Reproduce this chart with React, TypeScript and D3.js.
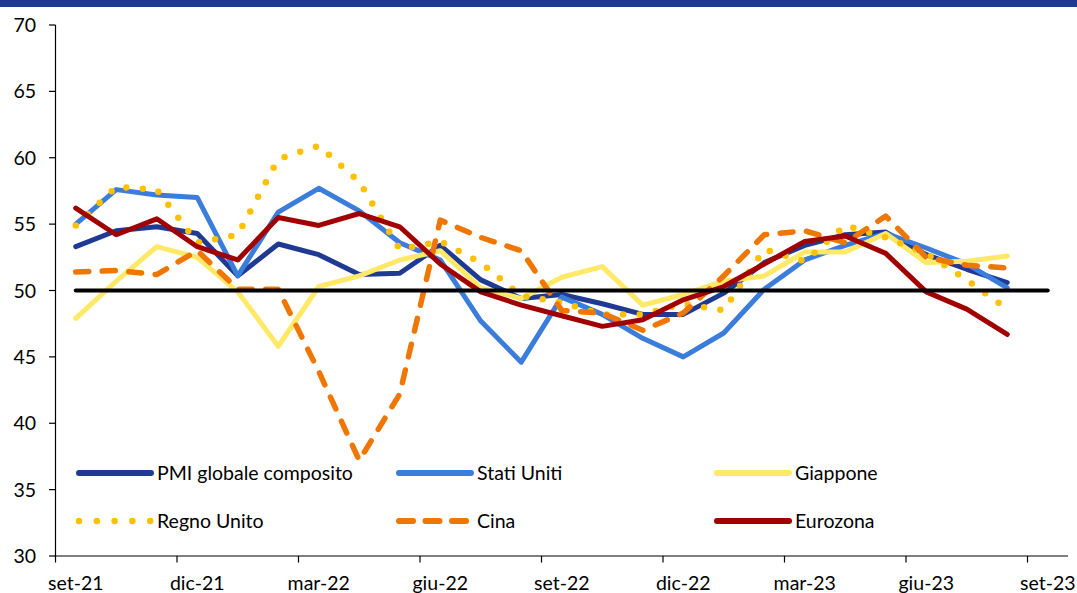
import { useEffect, useRef } from 'react';
import * as d3 from 'd3';

const months = [
  'set-21', 'ott-21', 'nov-21', 'dic-21', 'gen-22', 'feb-22', 'mar-22', 'apr-22', 'mag-22',
  'giu-22', 'lug-22', 'ago-22', 'set-22', 'ott-22', 'nov-22', 'dic-22', 'gen-23', 'feb-23',
  'mar-23', 'apr-23', 'mag-23', 'giu-23', 'lug-23', 'ago-23', 'set-23',
];
const tickMonths = ['set-21', 'dic-21', 'mar-22', 'giu-22', 'set-22', 'dic-22', 'mar-23', 'giu-23', 'set-23'];
const yTicks = [30, 35, 40, 45, 50, 55, 60, 65, 70];

const globale = [53.3, 54.5, 54.8, 54.3, 51.1, 53.5, 52.7, 51.2, 51.3, 53.4, 50.8, 49.4, 49.7, 49.0, 48.2, 48.2, 49.8, 52.1, 53.4, 54.2, 54.4, 52.7, 51.6, 50.6];
const statiUniti = [55.0, 57.6, 57.2, 57.0, 51.1, 55.9, 57.7, 56.0, 53.6, 52.3, 47.7, 44.6, 49.5, 48.2, 46.4, 45.0, 46.8, 50.1, 52.3, 53.4, 54.3, 53.2, 52.0, 50.2];
const giappone = [47.9, 50.7, 53.3, 52.5, 49.9, 45.8, 50.3, 51.1, 52.3, 53.0, 50.2, 49.4, 51.0, 51.8, 48.9, 49.7, 50.7, 51.1, 52.9, 52.9, 54.3, 52.1, 52.2, 52.6];
const regnoUnito = [54.9, 57.8, 57.6, 53.6, 54.2, 59.9, 60.9, 58.2, 53.1, 53.7, 52.1, 49.6, 49.1, 48.2, 48.2, 49.0, 48.5, 53.1, 52.2, 54.9, 54.0, 52.8, 50.8, 48.6];
const cina = [51.4, 51.5, 51.2, 53.0, 50.1, 50.1, 43.9, 37.2, 42.2, 55.3, 54.0, 53.0, 48.5, 48.3, 47.0, 48.3, 51.1, 54.2, 54.5, 53.6, 55.6, 52.5, 51.9, 51.7];
const eurozona = [56.2, 54.2, 55.4, 53.3, 52.3, 55.5, 54.9, 55.8, 54.8, 52.0, 49.9, 48.9, 48.1, 47.3, 47.8, 49.3, 50.3, 52.0, 53.7, 54.1, 52.8, 49.9, 48.6, 46.7];
const soglia = 50;

const series = [
  { name: 'PMI globale composito', values: globale, color: '#1f3a93', width: 5, dash: null },
  { name: 'Stati Uniti', values: statiUniti, color: '#3a7ddb', width: 5, dash: null },
  { name: 'Giappone', values: giappone, color: '#ffe966', width: 5, dash: null },
  { name: 'Regno Unito', values: regnoUnito, color: '#ffc000', width: 6.5, dash: '0 16.5' },
  { name: 'Cina', values: cina, color: '#ef7600', width: 5.5, dash: '13 13.5' },
  { name: 'Eurozona', values: eurozona, color: '#a00000', width: 5, dash: null },
];

const W = 1077;
const H = 593;
const FONT = 'Lato, "Open Sans", sans-serif';

export default function App() {
  const ref = useRef<SVGSVGElement>(null);

  useEffect(() => {
    const svg = d3.select(ref.current);
    svg.selectAll('*').remove();

    const x = d3.scaleBand<string>().domain(months).range([55.5, 1068]).padding(0);
    const y = d3.scaleLinear().domain([30, 70]).range([556, 25]);
    const cx = (m: string) => (x(m) as number) + x.bandwidth() / 2;

    // top band
    svg.append('rect').attr('x', 0).attr('y', 0).attr('width', W).attr('height', 7).attr('fill', '#1f3a93');

    // y axis
    svg.append('line')
      .attr('x1', 55.5).attr('x2', 55.5).attr('y1', y(70)).attr('y2', y(30))
      .attr('stroke', '#000').attr('stroke-width', 1.2);
    yTicks.forEach(t => {
      svg.append('line')
        .attr('x1', 49).attr('x2', 55.5).attr('y1', y(t)).attr('y2', y(t))
        .attr('stroke', '#000').attr('stroke-width', 1.2);
      svg.append('text')
        .attr('x', 36).attr('y', y(t)).attr('dy', '0.36em')
        .attr('text-anchor', 'end')
        .attr('font-family', FONT).attr('font-size', 19.5).attr('fill', '#000')
        .text(t);
    });

    // x axis
    svg.append('line')
      .attr('x1', 55.5).attr('x2', 1068).attr('y1', y(30)).attr('y2', y(30))
      .attr('stroke', '#000').attr('stroke-width', 1.2);
    tickMonths.forEach(m => {
      const bx = x(m) as number;
      svg.append('line')
        .attr('x1', bx).attr('x2', bx).attr('y1', y(30)).attr('y2', y(30) + 6.5)
        .attr('stroke', '#000').attr('stroke-width', 1.2);
      svg.append('text')
        .attr('x', cx(m)).attr('y', 590)
        .attr('text-anchor', 'middle')
        .attr('font-family', FONT).attr('font-size', 19.5).attr('fill', '#000')
        .text(m);
    });

    const line = d3.line<number>()
      .x((_, i) => cx(months[i]))
      .y(d => y(d));

    series.forEach(s => {
      const p = svg.append('path')
        .datum(s.values)
        .attr('fill', 'none')
        .attr('stroke', s.color)
        .attr('stroke-width', s.width)
        .attr('stroke-linejoin', 'round')
        .attr('stroke-linecap', 'round')
        .attr('d', line);
      if (s.dash) p.attr('stroke-dasharray', s.dash);
    });

    // 50 threshold
    svg.append('line')
      .attr('x1', cx(months[0])).attr('x2', cx(months[months.length - 1]))
      .attr('y1', y(soglia)).attr('y2', y(soglia))
      .attr('stroke', '#000').attr('stroke-width', 4).attr('stroke-linecap', 'round');

    // legend
    const colX = [79, 399, 717];
    const rowY = [473, 521];
    series.forEach((s, i) => {
      const lx = colX[i % 3];
      const ly = rowY[Math.floor(i / 3)];
      const l = svg.append('line')
        .attr('x1', lx).attr('x2', lx + 72).attr('y1', ly).attr('y2', ly)
        .attr('stroke', s.color).attr('stroke-width', s.dash === '0 16.5' ? 6.5 : 6)
        .attr('stroke-linecap', 'round');
      if (s.dash) l.attr('stroke-dasharray', s.dash === '0 16.5' ? '0 17.8' : '14 12.5');
      svg.append('text')
        .attr('x', lx + 78).attr('y', ly).attr('dy', '0.36em')
        .attr('font-family', FONT).attr('font-size', 19.5).attr('fill', '#000')
        .text(s.name);
    });
  }, []);

  return (
    <svg ref={ref} width={W} height={H} style={{ position: 'absolute', left: 0, top: 0, background: '#fff' }} />
  );
}
